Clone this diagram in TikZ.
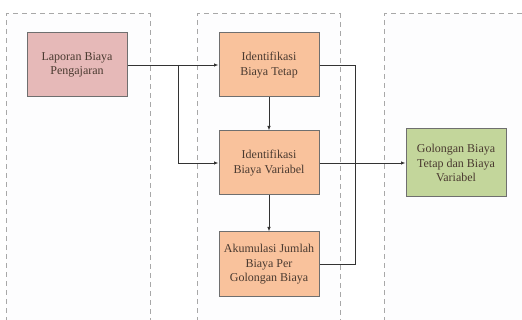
\documentclass[tikz,border=0pt]{standalone}
\usepackage{fontspec}
\setmainfont{Liberation Serif}
\usetikzlibrary{arrows.meta}
\definecolor{pinkfill}{HTML}{E6B9B8}
\definecolor{orangefill}{HTML}{F9C29C}
\definecolor{greenfill}{HTML}{C3D69B}
\definecolor{edge}{HTML}{6F6F6F}
\definecolor{txt}{HTML}{4A3A30}
\definecolor{lane}{HTML}{A8A8A8}
\definecolor{lanefill}{HTML}{FDFDFE}
\tikzset{
  procbox/.style={draw=edge, line width=1pt, minimum width=100pt, minimum height=64pt,
    align=center, text=txt, font=\fontsize{12}{14.5}\selectfont, inner sep=1pt},
  lanebox/.style={draw=lane, line width=1pt, dash pattern=on 5pt off 4pt},
  conn/.style={draw=black!80, line width=0.8pt},
  arr/.style={conn, -{Latex[length=4.5pt,width=3.5pt]}}
}
\begin{document}
\begin{tikzpicture}[x=1pt,y=-1pt]
\useasboundingbox (0,0) rectangle (522,320);
\begin{scope}
\clip (0,0) rectangle (522,320);
\fill[lanefill] (6,14) rectangle (150,340);
\fill[lanefill] (197,14) rectangle (340,340);
\fill[lanefill] (384,14) rectangle (540,340);
\draw[lanebox] (6,340) -- (6,14) -- (150,14) -- (150,340);
\draw[lanebox] (197,340) -- (197,14) -- (340,14) -- (340,340);
\draw[lanebox] (384,340) -- (384,14) -- (540,14);
\end{scope}
\node[procbox, fill=pinkfill] (lap) at (77,65) {Laporan Biaya\\Pengajaran};
\node[procbox, fill=orangefill] (tetap) at (269,65) {Identifikasi\\Biaya Tetap};
\node[procbox, fill=orangefill] (var) at (269,163) {Identifikasi\\Biaya Variabel};
\node[procbox, fill=orangefill, minimum height=65pt] (akum) at (269,264.5) {Akumulasi Jumlah\\Biaya Per\\Golongan Biaya};
\node[procbox, fill=greenfill, minimum height=68pt] (gol) at (456,163) {Golongan Biaya\\Tetap dan Biaya\\Variabel};
\coordinate (j1) at (178,65);
\coordinate (j2) at (355,65);
\draw[arr] (lap.east) -- (tetap.west);
\draw[arr] (j1) |- (var.west);
\draw[arr] (tetap.south) -- (var.north);
\draw[arr] (var.south) -- (akum.north);
\draw[conn] (tetap.east) -| (j2) |- (akum.east);
\draw[arr] (var.east) -- (gol.west);
\end{tikzpicture}
\end{document}
